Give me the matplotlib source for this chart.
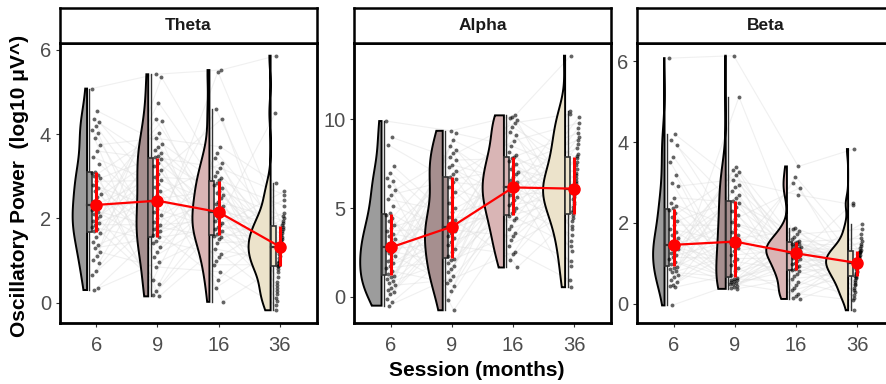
import matplotlib
matplotlib.use("Agg")
import matplotlib.pyplot as plt
import numpy as np
from matplotlib.collections import LineCollection
from matplotlib.patches import Rectangle, Polygon

plt.rcParams["font.family"] = ["Liberation Sans", "DejaVu Sans"]

sessions = ["6", "9", "16", "36"]
bands = ["Theta", "Alpha", "Beta"]
session_colors = ["#9c9c9c", "#a68f8f", "#d9b5b5", "#ece3cb"]

# log10 power per subject (same subject order inside each band)
theta_6 = [5.08, 4.55, 4.35, 4.28, 4.2, 4.1, 4.02, 3.9, 3.75, 3.6, 3.45, 3.3,
           3.1, 3.08, 3.04, 3.0, 2.95, 2.88, 2.8, 2.72, 2.65, 2.58, 2.5, 2.42,
           2.36, 2.28, 2.2, 2.15, 2.1, 2.05, 2.0, 1.95, 1.9, 1.85, 1.8, 1.75,
           1.7, 1.66, 1.55, 1.45, 1.38, 1.3, 1.2, 1.1, 1.02, 0.95, 0.75, 0.65,
           0.36, 0.3]
theta_9 = [5.42, 3.77, 3.32, 2.75, 2.08, 1.65, 1.08, 0.15, 3.9, 3.4, 2.82, 2.15,
           1.7, 1.2, 0.18, 4.03, 3.45, 2.9, 2.22, 1.75, 1.31, 0.27, 4.3, 3.48,
           2.98, 2.38, 1.8, 1.41, 0.45, 4.35, 3.55, 3.05, 2.46, 1.85, 1.47, 0.54,
           4.75, 3.63, 3.15, 2.55, 1.92, 1.55, 0.85, 5.35, 3.7, 3.25, 2.65, 2.0,
           1.6, 0.97]
theta_16 = [5.52, 2.85, 2.1, 1.5, 4.6, 2.72, 2.0, 1.28, 3.7, 2.6, 1.9, 1.08,
            3.43, 2.48, 1.8, 0.9, 3.2, 2.35, 1.7, 0.55, 3.0, 2.25, 1.62, 0.02,
            2.9, 2.12, 1.55, 5.48, 2.8, 2.05, 1.42, 4.37, 2.65, 1.95, 1.16, 3.54,
            2.55, 1.85, 1.0, 3.31, 2.4, 1.75, 0.73, 3.1, 2.3, 1.66, 0.35, 2.95,
            2.18, 1.59]
theta_36 = [5.86, 1.52, 0.8, 2.13, 1.3, 0.2, 1.75, 0.97, 2.84, 1.45,
            0.62, 2.0, 1.2, 0.05, 1.65, 0.9, 2.56, 1.38, 0.42, 1.9,
            1.1, -0.18, 1.55, 0.86, 2.3, 1.31, 0.28, 1.8, 1.0, 4.5,
            1.48, 0.72, 2.05, 1.25, 0.12, 1.7, 0.94, 2.64, 1.42, 0.5,
            1.95, 1.15, -0.05, 1.6, 0.88, 2.44, 1.35, 0.35, 1.84, 1.05]

alpha_6 = [9.9, 8.98, 8.55, 7.34, 7.0, 6.7, 6.5, 6.25, 6.0, 5.75, 5.5, 5.1,
           4.72, 4.6, 4.45, 4.25, 4.05, 3.9, 3.7, 3.55, 3.4, 3.25, 3.1, 2.95,
           2.82, 2.74, 2.65, 2.55, 2.45, 2.3, 2.15, 2.0, 1.9, 1.75, 1.6, 1.45,
           1.3, 1.17, 1.1, 1.0, 0.9, 0.8, 0.65, 0.5, 0.4, 0.25, 0.15, -0.1,
           -0.3, -0.5]
alpha_9 = [9.35, 7.7, 6.45, 4.5, 3.7, 2.5, 1.4, -0.76, 7.9, 6.65, 4.75, 3.8,
           2.7, 1.55, -0.2, 8.1, 6.76, 5.0, 3.88, 2.9, 1.75, 0.3, 8.27, 6.9,
           5.3, 3.92, 3.1, 1.9, 0.6, 8.5, 7.1, 5.6, 3.98, 3.3, 2.05, 0.8,
           8.83, 7.3, 5.9, 4.1, 3.45, 2.14, 0.95, 9.2, 7.43, 6.2, 4.3, 3.6,
           2.3, 1.15]
alpha_16 = [10.22, 7.8, 6.08, 4.3, 10.05, 7.5, 5.88, 3.8, 9.8, 7.2, 5.6, 3.4,
            9.3, 6.9, 5.3, 2.85, 8.8, 6.6, 5.0, 2.4, 8.17, 6.3, 4.7, 1.65,
            7.88, 6.13, 4.45, 10.15, 7.65, 6.0, 4.0, 9.95, 7.35, 5.75, 3.6, 9.57,
            7.05, 5.45, 3.2, 9.1, 6.75, 5.15, 2.55, 8.5, 6.45, 4.85, 2.1, 8.0,
            6.19, 4.56]
alpha_36 = [13.58, 6.7, 4.45, 9.0, 6.02, 2.6, 7.6, 5.2, 10.3, 6.42,
            4.0, 8.6, 5.85, 1.76, 7.2, 4.9, 9.8, 6.2, 3.5, 8.05,
            5.62, 0.54, 6.85, 4.6, 9.23, 6.06, 2.85, 7.8, 5.35, 10.46,
            6.55, 4.27, 8.83, 5.95, 2.04, 7.4, 5.05, 10.1, 6.3, 3.8,
            8.37, 5.75, 0.93, 7.0, 4.75, 9.5, 6.12, 3.15, 7.92, 5.5]

beta_6 = [6.08, 4.2, 4.05, 3.93, 3.64, 3.52, 3.19, 2.99, 2.91, 2.63, 2.5, 2.42,
          2.36, 2.32, 2.25, 2.15, 2.05, 1.95, 1.86, 1.78, 1.7, 1.62, 1.55, 1.5,
          1.47, 1.45, 1.43, 1.41, 1.38, 1.35, 1.3, 1.25, 1.2, 1.15, 1.1, 1.04,
          0.98, 0.92, 0.88, 0.85, 0.8, 0.78, 0.72, 0.66, 0.6, 0.53, 0.47, 0.43,
          0.41, -0.04]
beta_9 = [6.14, 2.95, 2.4, 1.78, 1.38, 0.8, 0.55, 0.37, 3.07, 2.5, 1.86, 1.45,
          0.88, 0.57, 0.4, 3.2, 2.55, 1.94, 1.5, 0.96, 0.58, 0.42, 3.25, 2.62,
          2.02, 1.52, 1.05, 0.6, 0.45, 3.3, 2.7, 2.1, 1.56, 1.12, 0.62, 0.49,
          3.38, 2.78, 2.2, 1.62, 1.2, 0.65, 0.5, 5.12, 2.9, 2.3, 1.7, 1.3,
          0.72, 0.52]
beta_16 = [3.4, 1.51, 1.22, 0.75, 2.99, 1.47, 1.18, 0.62, 2.7, 1.43, 1.1, 0.46,
           1.84, 1.38, 1.02, 0.33, 1.72, 1.32, 0.94, 0.2, 1.6, 1.28, 0.86, 0.12,
           1.53, 1.24, 0.8, 3.15, 1.49, 1.2, 0.7, 2.87, 1.45, 1.14, 0.54, 1.88,
           1.4, 1.06, 0.4, 1.8, 1.35, 0.98, 0.25, 1.66, 1.3, 0.9, 0.15, 1.56,
           1.26, 0.83]
beta_36 = [3.83, 1.13, 0.64, 1.55, 0.99, 0.28, 1.27, 0.79, 2.45, 1.08,
           0.55, 1.42, 0.94, 0.15, 1.22, 0.73, 1.85, 1.04, 0.46, 1.33,
           0.88, -0.16, 1.16, 0.67, 1.62, 1.0, 0.34, 1.29, 0.82, 2.5,
           1.1, 0.6, 1.48, 0.97, 0.21, 1.25, 0.76, 1.98, 1.06, 0.5,
           1.37, 0.91, 0.09, 1.19, 0.7, 1.72, 1.02, 0.4, 1.31, 0.85]

power = {
    "Theta": [theta_6, theta_9, theta_16, theta_36],
    "Alpha": [alpha_6, alpha_9, alpha_16, alpha_36],
    "Beta": [beta_6, beta_9, beta_16, beta_36],
}

W, H = 886, 384
PANEL_X = [59.5, 354, 637]
PANEL_W = 257
PANEL_TOP, PANEL_BOTTOM, STRIP_TOP = 43, 323, 8

VIOLIN_EDGE = -0.15   # flat side of the half violin, relative to tick
VIOLIN_HALF = 0.36    # widest half violin in a panel
BOX_X = -0.11
BOX_W = 0.08
JITTER = 0.15


def density(values, n_grid=256):
    """Gaussian KDE (nrd0 bandwidth) trimmed to the data range."""
    v = np.asarray(values, dtype=float)
    n = len(v)
    q75, q25 = np.percentile(v, [75, 25])
    bw = 0.9 * min(v.std(ddof=1), (q75 - q25) / 1.34) * n ** -0.2
    ys = np.linspace(v.min(), v.max(), n_grid)
    z = (ys[:, None] - v[None, :]) / bw
    dens = np.exp(-0.5 * z ** 2).sum(axis=1) / (n * bw * np.sqrt(2 * np.pi))
    return ys, dens


def draw_band(ax, groups):
    n_sub = len(groups[0])
    xs = []
    for k, vals in enumerate(groups):
        jit = ((np.arange(n_sub) * 0.618034 + k * 0.37) % 1.0 - 0.5) * JITTER
        xs.append(k + 1 + jit)
    xs = np.array(xs)
    ys = np.array(groups, dtype=float)

    # subject trajectories
    segs = [np.column_stack([xs[:, i], ys[:, i]]) for i in range(n_sub)]
    ax.add_collection(LineCollection(segs, colors="#dedede", linewidths=0.8,
                                     alpha=0.45, zorder=1))

    kdes = [density(v) for v in groups]
    dmax = max(d.max() for _, d in kdes)

    medians, q1s, q3s = [], [], []
    for k, vals in enumerate(groups):
        pos = k + 1
        v = np.asarray(vals, dtype=float)
        grid, dens = kdes[k]
        edge = pos + VIOLIN_EDGE
        outer = edge - dens / dmax * VIOLIN_HALF
        pts = np.vstack([np.column_stack([outer, grid]),
                         [[edge, grid[-1]], [edge, grid[0]]]])
        ax.add_patch(Polygon(pts, closed=True, facecolor=session_colors[k],
                             edgecolor="black", lw=1.4, zorder=2))

        q1, med, q3 = np.percentile(v, [25, 50, 75])
        iqr = q3 - q1
        lo = v[v >= q1 - 1.5 * iqr].min()
        hi = v[v <= q3 + 1.5 * iqr].max()
        bx = pos + BOX_X
        ax.plot([bx, bx], [lo, hi], color="#333333", lw=1.0, zorder=3)
        ax.add_patch(Rectangle((bx - BOX_W / 2, q1), BOX_W, q3 - q1,
                               facecolor=session_colors[k], edgecolor="#333333",
                               lw=1.2, zorder=3))
        ax.plot([bx - BOX_W / 2, bx + BOX_W / 2], [med, med],
                color="#333333", lw=1.6, zorder=3)

        ax.scatter(xs[k], v, s=8, color="black", alpha=0.6, lw=0, zorder=4)
        medians.append(med)
        q1s.append(q1)
        q3s.append(q3)

    pos = np.arange(1, len(groups) + 1)
    ax.vlines(pos, q1s, q3s, color="red", lw=2.2, zorder=6)
    ax.plot(pos, medians, color="red", lw=1.6, marker="o", ms=8, zorder=7)

    lo_all, hi_all = ys.min(), ys.max()
    pad = 0.05 * (hi_all - lo_all)
    ax.set_ylim(lo_all - pad, hi_all + pad)


fig = plt.figure(figsize=(W / 100, H / 100), dpi=100)

yticks = {"Theta": [0, 2, 4, 6], "Alpha": [0, 5, 10], "Beta": [0, 2, 4, 6]}

for b, band in enumerate(bands):
    left = PANEL_X[b] / W
    ax = fig.add_axes([left, (H - PANEL_BOTTOM) / H, PANEL_W / W,
                       (PANEL_BOTTOM - PANEL_TOP) / H])
    draw_band(ax, power[band])
    ax.set_xlim(0.4, 4.6)
    ax.set_xticks(range(1, 5))
    ax.set_xticklabels(sessions)
    ax.set_yticks(yticks[band])
    for sp in ax.spines.values():
        sp.set_linewidth(2.0)
        sp.set_color("black")
    ax.tick_params(direction="out", length=3, width=0.8, color="#333333",
                   labelsize=14.5, labelcolor="#4d4d4d")
    ax.tick_params(axis="x", pad=6.5)
    ax.tick_params(axis="y", pad=3)

    strip = fig.add_axes([left, (H - PANEL_TOP) / H, PANEL_W / W,
                          (PANEL_TOP - STRIP_TOP) / H])
    strip.set_xticks([])
    strip.set_yticks([])
    for sp in strip.spines.values():
        sp.set_linewidth(1.8)
        sp.set_color("black")
    strip.text(0.5, 0.5, band, ha="center", va="center", fontsize=12.5,
               fontweight="bold", color="#1a1a1a", transform=strip.transAxes)

fig.text(20 / W, 1 - 186 / H, "Oscillatory Power  (log10 μV^)", rotation=90,
         ha="center", va="center", fontsize=15, fontweight="bold")
fig.text(477 / W, 1 - 371 / H, "Session (months)", ha="center", va="center",
         fontsize=15, fontweight="bold")

fig.savefig("out.png", dpi=100)
